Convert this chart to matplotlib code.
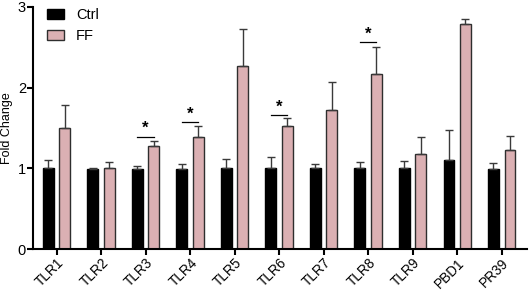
import numpy as np
import matplotlib.pyplot as plt

plt.rcParams['font.family'] = ['Liberation Sans', 'DejaVu Sans']

genes = ["TLR1", "TLR2", "TLR3", "TLR4", "TLR5", "TLR6", "TLR7", "TLR8", "TLR9", "PBD1", "PR39"]
ctrl = [1.00, 0.99, 0.99, 0.99, 1.00, 1.01, 1.00, 1.00, 1.00, 1.11, 0.99]
ctrl_err = [0.10, 0.01, 0.04, 0.06, 0.12, 0.13, 0.05, 0.08, 0.09, 0.37, 0.08]
ff = [1.50, 1.01, 1.28, 1.39, 2.27, 1.52, 1.72, 2.17, 1.18, 2.78, 1.23]
ff_err = [0.28, 0.07, 0.06, 0.14, 0.46, 0.10, 0.35, 0.33, 0.21, 0.07, 0.17]
# significance markers: gene index, bracket height
sig_idx = [2, 3, 5, 7]
sig_y = [1.39, 1.57, 1.66, 2.56]

fig = plt.figure(figsize=(5.29, 2.90), dpi=100)
ax = fig.add_axes([0.0624, 0.140, 0.934, 0.837])

x = np.arange(len(genes))
off = 0.185
w = 0.245
ax.bar(x - off, ctrl, w, color='black', edgecolor='black', linewidth=1,
       yerr=[np.zeros(len(genes)), ctrl_err], ecolor='#3a3a3a',
       error_kw=dict(elinewidth=1, capsize=3, capthick=1), label='Ctrl', zorder=2)
ax.bar(x + off, ff, w, color='#dbb0b3', edgecolor='#2e2e2e', linewidth=1,
       yerr=[np.zeros(len(genes)), ff_err], ecolor='#3a3a3a',
       error_kw=dict(elinewidth=1, capsize=3, capthick=1), label='FF', zorder=2)

for i, yy in zip(sig_idx, sig_y):
    ax.plot([i - off, i + off], [yy, yy], color='black', lw=0.9)
    ax.text(i, yy + 0.01, '*', ha='center', va='bottom', fontsize=12, fontweight='bold')

ax.set_xlim(-0.53, 10.57)
ax.set_ylim(0, 3)
ax.set_yticks([0, 1, 2, 3])
ax.set_xticks(x)
ax.set_xticklabels(genes, rotation=45, ha='right', rotation_mode='anchor', fontsize=9.8)
ax.tick_params(axis='y', labelsize=10.5, width=1.5, length=4, pad=1)
ax.tick_params(axis='x', width=1.5, length=4, pad=0.5)
ax.set_ylabel('Fold Change', fontsize=9)
ax.yaxis.set_label_coords(-0.040, 0.5)
for s in ['top', 'right']:
    ax.spines[s].set_visible(False)
for s in ['left', 'bottom']:
    ax.spines[s].set_linewidth(1.5)

ax.legend(loc='upper left', bbox_to_anchor=(0.01, 1.03), frameon=False, fontsize=10.5,
          handlelength=1.2, handleheight=0.7, handletextpad=0.8,
          borderaxespad=0.2, labelspacing=0.5)

fig.savefig('out.png', dpi=100)
